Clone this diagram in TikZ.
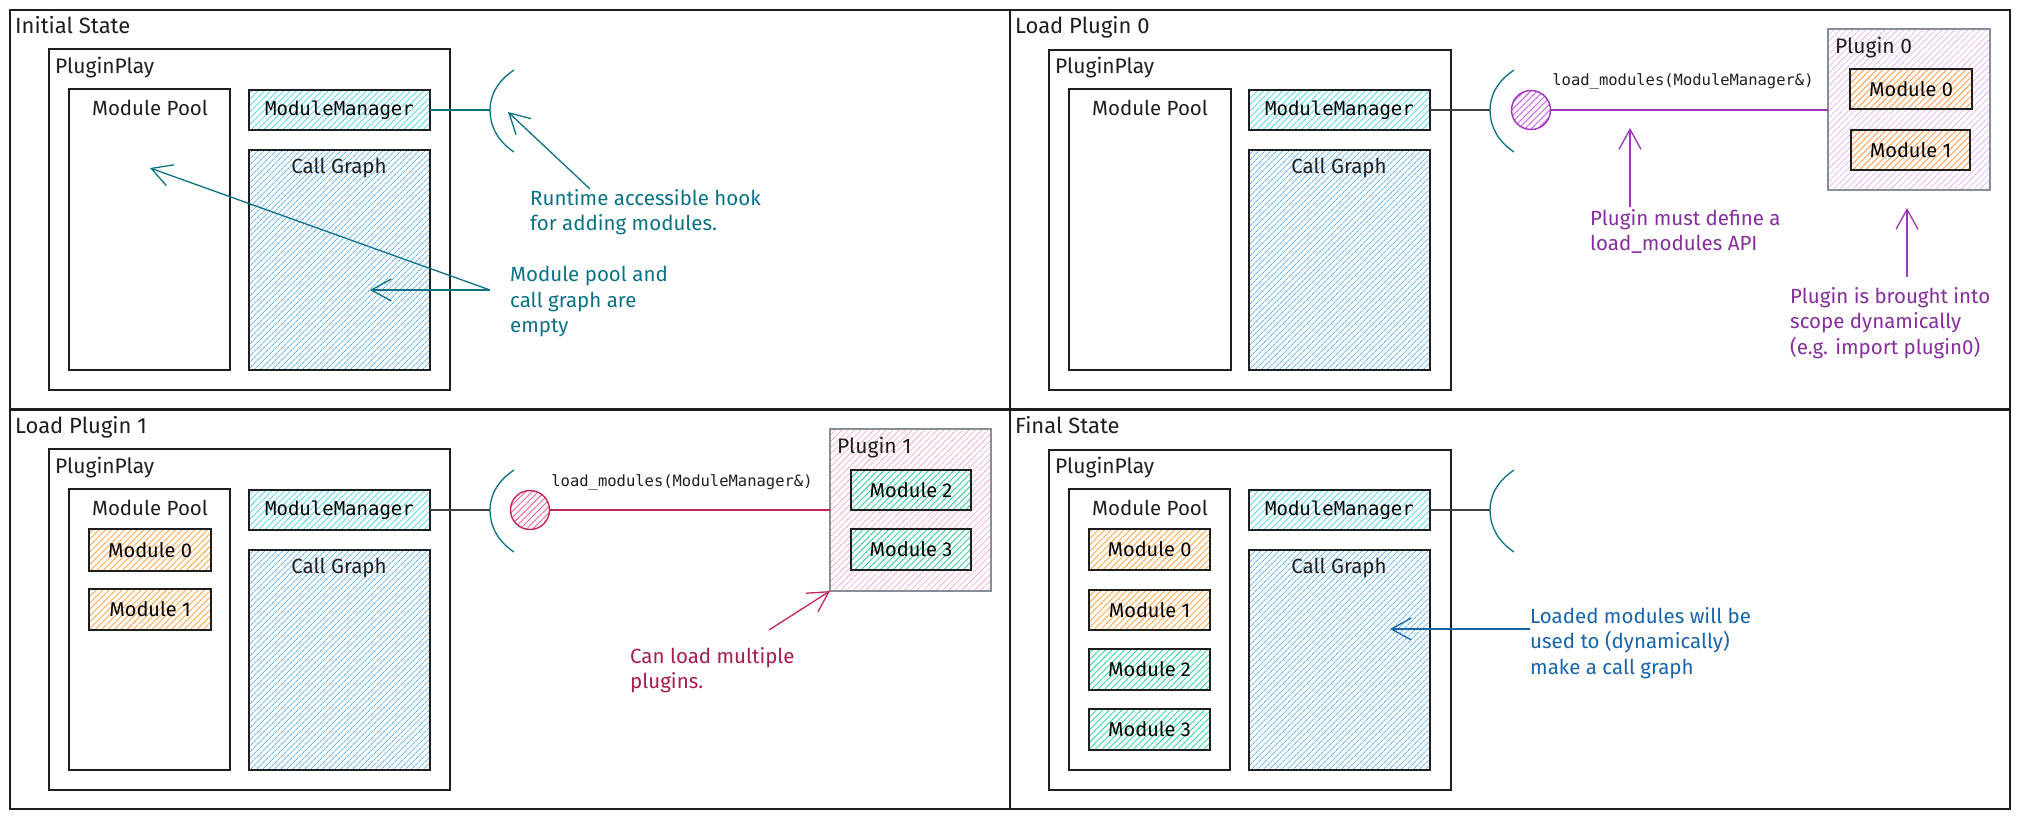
\documentclass[tikz,border=0pt]{standalone}
\usepackage{fontspec}
\setmainfont{Fira Sans}
\newfontfamily\codefont{DejaVu Sans Mono}
\usetikzlibrary{patterns.meta,arrows.meta}
\definecolor{ink}{HTML}{1E1E1E}
\definecolor{cyannine}{HTML}{0B7285}
\definecolor{grapeline}{HTML}{9C36B5}
\definecolor{grapetext}{HTML}{862E9C}
\definecolor{pinkline}{HTML}{C2255C}
\definecolor{pinktext}{HTML}{A61E4D}
\definecolor{bluetext}{HTML}{1864AB}
\definecolor{hatchcyan}{HTML}{66D9E8}
\definecolor{hatchblue}{HTML}{6CB8F8}
\definecolor{hatchorange}{HTML}{FFA94D}
\definecolor{hatchgreen}{HTML}{38D9A9}
\definecolor{hatchgrape}{HTML}{E5A9F7}
\definecolor{hatchpink}{HTML}{FAA2C1}
\definecolor{circgrape}{HTML}{CC5DE8}
\definecolor{circpink}{HTML}{F06595}
\definecolor{framegray}{HTML}{868E96}
\newcommand{\DrawBox}[7]{%
  \node[#2, minimum width={(#5-#3)*1pt}, minimum height={(#6-#4)*1pt}] (#1) at ({(#3+#5)/2},{(#4+#6)/2}) {#7};}
\tikzset{
  panel/.style={draw=ink, line width=1.4pt, inner sep=0pt, outer sep=0pt},
  boxline/.style={draw=ink, line width=1.6pt, inner sep=0pt, outer sep=0pt},
  plain/.style={boxline},
  hatch/.style={pattern={Lines[angle=45,distance=4.5pt,line width=0.9pt]}, pattern color=#1},
  densehatch/.style={pattern={Lines[angle=45,distance=4pt,line width=1pt]}, pattern color=#1},
  lighthatch/.style={pattern={Lines[angle=45,distance=4.5pt,line width=0.6pt]}, pattern color=#1},
  mmbox/.style={boxline, hatch=hatchcyan, font=\codefont\fontsize{19}{22}\selectfont},
  cgbox/.style={boxline, densehatch=hatchblue},
  modorange/.style={boxline, hatch=hatchorange, font=\fontsize{20}{24}\selectfont},
  modgreen/.style={boxline, hatch=hatchgreen, font=\fontsize{20}{24}\selectfont},
  pluginbox/.style={draw=framegray, line width=1.4pt, inner sep=0pt, outer sep=0pt, lighthatch=#1},
  paneltitle/.style={anchor=base west, inner sep=0pt, font=\fontsize{22}{26}\selectfont, text=ink},
  innertitle/.style={anchor=base west, inner sep=0pt, font=\fontsize{21}{25}\selectfont, text=ink},
  boxtitle/.style={anchor=base, inner sep=0pt, font=\fontsize{20.5}{24}\selectfont, text=ink},
  note/.style={anchor=north west, align=left, inner sep=0pt, font=\fontsize{20.5}{25.5}\selectfont},
  code/.style={anchor=base, inner sep=0pt, font=\codefont\fontsize{15.5}{18}\selectfont, text=ink},
  hookline/.style={draw=cyannine, line width=1.3pt},
  wire/.style={draw=ink!85, line width=1.3pt},
  callout/.style={line width=1.3pt, -{Straight Barb[length=20pt,width=22pt]}},
  ball/.style={circle, line width=1.4pt, minimum size=39pt, inner sep=0pt, outer sep=0pt},
  hookpic/.pic={\draw[hookline] (24,-40) .. controls (6,-28) and (0,-13) .. (0,0) .. controls (0,14) and (6,30) .. (24,42);}
}
\begin{document}
\begin{tikzpicture}[x=1pt,y=-1pt]
\useasboundingbox (0,0) rectangle (2020,820);
\fill[white] (0,0) rectangle (2020,820);
% panels
\DrawBox{f1}{panel}{10}{10}{1010}{409}{}
\DrawBox{f2}{panel}{1010}{10}{2010}{409}{}
\DrawBox{f3}{panel}{10}{410}{1010}{809}{}
\DrawBox{f4}{panel}{1010}{410}{2010}{809}{}
\node[paneltitle] (t1) at (15,33) {Initial State};
\node[paneltitle] (t2) at (1015,33) {Load Plugin 0};
\node[paneltitle] (t3) at (15,433) {Load Plugin 1};
\node[paneltitle] (t4) at (1015,433) {Final State};

% ---------- panel 1
\DrawBox{pp1}{plain}{49}{49}{450}{390}{}
\node[innertitle] (pp1t) at (55,73) {PluginPlay};
\DrawBox{pool1}{plain}{69}{89}{230}{370}{}
\DrawBox{mm1}{mmbox}{249}{90}{430}{130}{ModuleManager}
\DrawBox{cg1}{cgbox}{249}{150}{430}{370}{}
\node[boxtitle] (pool1t) at (150,115) {Module Pool};
\node[boxtitle] (cg1t) at (339,173) {Call Graph};
\coordinate (h1) at (490,110);
\pic at (h1) {hookpic};
\draw[hookline] (mm1.east) -- (h1);
\node[note, text=cyannine] (n1) at (530,189) {Runtime accessible hook\\for adding modules.};
\node[note, text=cyannine] (n2) at (510,266) {Module pool and\\call graph are\\empty};
\coordinate (a1s) at (590,189); \coordinate (a1e) at (508,112);
\coordinate (a2s) at (490,290); \coordinate (a2e) at (150,168);
\coordinate (a3e) at (370,290);
\draw[callout, cyannine] (a1s) -- (a1e);
\draw[callout, cyannine] (a2s) -- (a2e);
\draw[callout, cyannine] (a2s) -- (a3e);

% ---------- panel 2
\DrawBox{pp2}{plain}{1049}{50}{1451}{390}{}
\node[innertitle] (pp2t) at (1055,73) {PluginPlay};
\DrawBox{pool2}{plain}{1069}{89}{1231}{370}{}
\DrawBox{mm2}{mmbox}{1249}{90}{1430}{130}{ModuleManager}
\DrawBox{cg2}{cgbox}{1249}{150}{1430}{370}{}
\node[boxtitle] (pool2t) at (1150,115) {Module Pool};
\node[boxtitle] (cg2t) at (1339,173) {Call Graph};
\coordinate (h2) at (1490,110);
\draw[wire] (mm2.east) -- (h2);
\pic at (h2) {hookpic};
\DrawBox{p0}{pluginbox=hatchgrape}{1828}{29}{1990}{190}{}
\node[innertitle] (p0t) at (1835,53) {Plugin 0};
\DrawBox{m0b}{modorange}{1850}{69}{1972}{109}{Module 0}
\DrawBox{m1b}{modorange}{1851}{130}{1970}{170}{Module 1}
\node[ball, draw=grapeline, hatch=circgrape] (c2) at (1531,110) {};
\draw[grapeline, line width=1.5pt] (c2.east) -- (c2.east -| p0.west);
\node[code] (lm2) at (1683,85) {load\_modules(ModuleManager\&)};
\node[note, text=grapetext] (n3) at (1590,209) {Plugin must define a\\load\_modules API};
\node[note, text=grapetext] (n4) at (1790,287) {Plugin is brought into\\scope dynamically\\(e.g. import plugin0)};
\coordinate (a4s) at (1630,207); \coordinate (a4e) at (1630,128);
\coordinate (a5s) at (1907,277); \coordinate (a5e) at (1907,208);
\draw[callout, grapeline] (a4s) -- (a4e);
\draw[callout, grapeline] (a5s) -- (a5e);

% ---------- panel 3
\DrawBox{pp3}{plain}{49}{449}{450}{790}{}
\node[innertitle] (pp3t) at (55,473) {PluginPlay};
\DrawBox{pool3}{plain}{69}{489}{230}{770}{}
\node[boxtitle] (pool3t) at (150,515) {Module Pool};
\DrawBox{m0c}{modorange}{89}{529}{211}{571}{Module 0}
\DrawBox{m1c}{modorange}{89}{589}{211}{630}{Module 1}
\DrawBox{mm3}{mmbox}{249}{490}{430}{530}{ModuleManager}
\DrawBox{cg3}{cgbox}{249}{550}{430}{770}{}
\node[boxtitle] (cg3t) at (339,573) {Call Graph};
\coordinate (h3) at (490,510);
\draw[wire] (mm3.east) -- (h3);
\pic at (h3) {hookpic};
\DrawBox{p1}{pluginbox=hatchpink}{830}{429}{991}{591}{}
\node[innertitle] (p1t) at (837,453) {Plugin 1};
\DrawBox{m2c}{modgreen}{851}{470}{971}{510}{Module 2}
\DrawBox{m3c}{modgreen}{851}{529}{971}{570}{Module 3}
\node[ball, draw=pinkline, hatch=circpink] (c3) at (530,510) {};
\draw[pinkline, line width=1.5pt] (c3.east) -- (c3.east -| p1.west);
\node[code] (lm3) at (682,486) {load\_modules(ModuleManager\&)};
\node[note, text=pinktext] (n5) at (630,647) {Can load multiple\\plugins.};
\coordinate (a6s) at (769,630); \coordinate (a6e) at (p1.south west);
\draw[callout, pinkline] (a6s) -- (a6e);

% ---------- panel 4
\DrawBox{pp4}{plain}{1049}{450}{1451}{790}{}
\node[innertitle] (pp4t) at (1055,473) {PluginPlay};
\DrawBox{pool4}{plain}{1069}{489}{1230}{770}{}
\node[boxtitle] (pool4t) at (1150,515) {Module Pool};
\DrawBox{m0d}{modorange}{1089}{529}{1210}{570}{Module 0}
\DrawBox{m1d}{modorange}{1089}{590}{1210}{630}{Module 1}
\DrawBox{m2d}{modgreen}{1089}{649}{1210}{690}{Module 2}
\DrawBox{m3d}{modgreen}{1089}{709}{1210}{750}{Module 3}
\DrawBox{mm4}{mmbox}{1249}{490}{1430}{530}{ModuleManager}
\DrawBox{cg4}{cgbox}{1249}{550}{1430}{770}{}
\node[boxtitle] (cg4t) at (1339,573) {Call Graph};
\coordinate (h4) at (1490,510);
\draw[wire] (mm4.east) -- (h4);
\pic at (h4) {hookpic};
\node[note, text=bluetext] (n6) at (1530,607) {Loaded modules will be\\used to (dynamically)\\make a call graph};
\coordinate (a7s) at (1530,629); \coordinate (a7e) at (1390,629);
\draw[callout, bluetext] (a7s) -- (a7e);
\end{tikzpicture}
\end{document}
